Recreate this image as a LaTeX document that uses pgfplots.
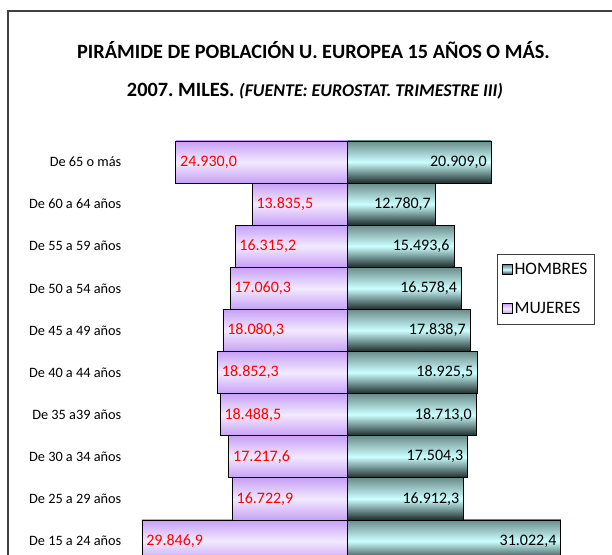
\documentclass[border=0pt]{standalone}
\usepackage{fontspec}
\setmainfont{Carlito}
\usepackage{pgfplots}
\pgfplotsset{compat=1.18}
\usepackage{pgfplotstable}
\frenchspacing

\definecolor{lavE}{HTML}{C7A0F5}
\definecolor{lavM}{HTML}{F3E9FF}
\definecolor{tealT}{HTML}{6B8C8A}
\definecolor{tealM}{HTML}{CCFFFF}
\definecolor{tealB}{HTML}{1C2B2B}
\definecolor{framec}{HTML}{404040}

\pgfplotstableread{
k H M
0 31022.4 29846.9
1 16912.3 16722.9
2 17504.3 17217.6
3 18713.0 18488.5
4 18925.5 18852.3
5 17838.7 18080.3
6 16578.4 17060.3
7 15493.6 16315.2
8 12780.7 13835.5
9 20909.0 24930.0
}\data

\pgfplotsset{
  hstyle/.style={draw=black, line width=0.8bp, top color=tealT, bottom color=tealB, middle color=tealM,
    point meta=x, nodes near coords,
    every node near coord/.append style={anchor=east, text=black, inner sep=4bp, font=\fontsize{16bp}{18bp}\selectfont}},
  mstyle/.style={draw=black, line width=0.8bp, top color=lavE, bottom color=lavE, middle color=lavM,
    point meta=explicit, nodes near coords,
    every node near coord/.append style={anchor=west, text=red, inner sep=4bp, font=\fontsize{16bp}{18bp}\selectfont}},
  onlyrow/.style={y filter/.expression={abs(y-#1)<0.1 ? y : nan}},
}

\begin{document}
\begin{tikzpicture}
\useasboundingbox (0bp,0bp) rectangle (612bp,555bp);
\clip (0bp,0bp) rectangle (612bp,555bp);
\draw[line width=2bp, framec] (8bp,-10bp) -- (8bp,544bp) -- (620bp,544bp);
\node[anchor=base, inner sep=0pt, font=\bfseries\fontsize{20.3bp}{24bp}\selectfont] at (313.5bp,496.4bp) {PIRÁMIDE DE POBLACIÓN U. EUROPEA 15 AÑOS O MÁS.};
\node[anchor=base, inner sep=0pt, font=\bfseries\fontsize{20.3bp}{24bp}\selectfont] at (315bp,458.5bp) {2007. MILES. {\itshape\fontsize{17.9bp}{20bp}\selectfont (FUENTE: EUROSTAT. TRIMESTRE III)}};
\begin{axis}[
  at={(140.9bp,-7.05bp)}, anchor=south west,
  scale only axis, width=454.1bp, height=421.1bp,
  xmin=-30000, xmax=36000, ymin=-0.5, ymax=9.5,
  xbar, bar width=42.11bp, bar shift=0pt,
  axis line style={draw=none},
  xtick=\empty, ytick={0,...,9},
  yticklabels={De 15 a 24 años, De 25 a 29 años, De 30 a 34 años, De 35 a39 años, De 40 a 44 años, De 45 a 49 años, De 50 a 54 años, De 55 a 59 años, De 60 a 64 años, De 65 o más},
  major tick length=0pt,
  yticklabel style={font=\fontsize{14.3bp}{16bp}\selectfont, inner sep=0pt, xshift=-19.4bp},
  /pgf/number format/assume math mode=true,
  /pgf/number format/fixed,
  /pgf/number format/fixed zerofill,
  /pgf/number format/precision=1,
  /pgf/number format/use comma,
  legend image code/.code={\draw[#1] (0bp,-5bp) rectangle (10bp,5bp);},
  legend style={at={(axis description cs:0.7842,0.7315)}, anchor=north west,
    draw=black!75, line width=0.6bp, font=\fontsize{17.5bp}{20bp}\selectfont,
    inner xsep=4.5bp, inner ysep=7bp, row sep=22bp},
  legend cell align=left,
]
\addplot[hstyle, onlyrow=0] table[x=H, y=k] {\data};
\addlegendentry{HOMBRES}
\addplot[mstyle, onlyrow=0] table[x expr=-\thisrow{M}, y=k, meta=M] {\data};
\addlegendentry{MUJERES}
\pgfplotsinvokeforeach{1,...,9}{
  \addplot[hstyle, forget plot, onlyrow=#1] table[x=H, y=k] {\data};
  \addplot[mstyle, forget plot, onlyrow=#1] table[x expr=-\thisrow{M}, y=k, meta=M] {\data};
}
\end{axis}
\end{tikzpicture}
\end{document}
